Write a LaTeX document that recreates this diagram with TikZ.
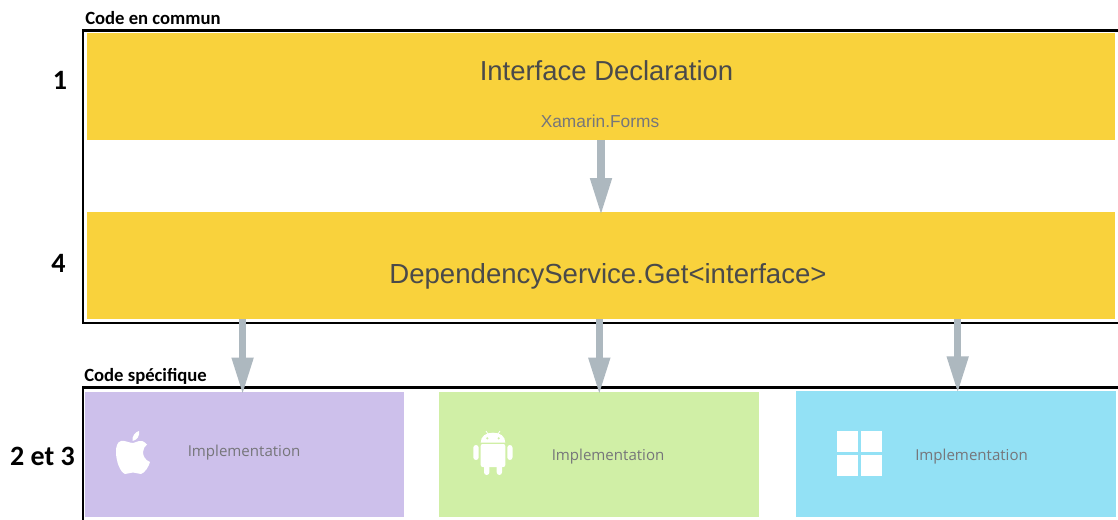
\documentclass[tikz,border=0pt]{standalone}
\usepackage{fontspec}
\setmainfont{Liberation Sans}
\newfontfamily\calfont{Carlito}
\newfontfamily\implfont{Open Sans}
\usetikzlibrary{arrows.meta,calc}
\definecolor{yel}{HTML}{F9D23C}
\definecolor{purp}{HTML}{CDC0EB}
\definecolor{grn}{HTML}{D0EFA6}
\definecolor{cyanb}{HTML}{93E1F5}
\definecolor{arr}{HTML}{ADB8BF}
\definecolor{txt}{HTML}{4A4A4A}
\definecolor{txtl}{HTML}{76767A}
\tikzset{
  box/.style={anchor=north west,inner sep=0pt,outer sep=0pt,draw=none},
  frame/.style={draw=black,line width=2.2pt},
  flow/.style={draw=arr,line width=5.5pt,shorten >=-2.25pt,-{Triangle[length=28pt,width=15pt]}},
  head/.style={font=\calfont\bfseries\fontsize{14}{16}\selectfont,anchor=base west,inner sep=0pt},
  num/.style={font=\calfont\bfseries\fontsize{21}{24}\selectfont,anchor=base,inner sep=0pt},
  impl/.style={font=\implfont\fontsize{11.3}{13}\selectfont,text=txtl,anchor=base west,inner sep=0pt},
  icon/.style={fill=white,draw=none}
}
\begin{document}
\begin{tikzpicture}[x=0.75pt,y=-0.75pt]
\useasboundingbox (0,0) rectangle (1118,520);
\fill[white] (0,0) rectangle (1118,520);
\node[box,fill=yel,minimum width=771pt,minimum height=80pt] (b1) at (87,33.3) {};
\node[box,fill=yel,minimum width=771pt,minimum height=80pt] (b4) at (87,212.5) {};
\node[box,fill=purp,minimum width=239.25pt,minimum height=93.5pt] (i1) at (85,392) {};
\node[box,fill=grn,minimum width=240.2pt,minimum height=93.5pt] (i2) at (439,392) {};
\node[box,fill=cyanb,minimum width=239.5pt,minimum height=95pt] (i3) at (796.4,390.7) {};
\draw[frame] (1118,30.8) -- (83,30.8) -- (83,323) -- (1118,323);
\draw[frame] (83,520) -- (83,387.5) -- (1118,387.5);
\coordinate (ax0) at (601,300);
\coordinate (ax1) at (242.6,300);
\coordinate (ax2) at (599.3,300);
\coordinate (ax3) at (957.7,300);
\draw[flow] (b1.south -| ax0) -- (b4.north -| ax0);
\draw[flow] (b4.south -| ax1) -- (i1.north -| ax1);
\draw[flow] (b4.south -| ax2) -- (i2.north -| ax2);
\draw[flow] (b4.south -| ax3) -- (i3.north -| ax3);
\node[head] (h1) at (85,25) {Code en commun};
\node[head] (h2) at (84,382) {Code spécifique};
\node[num] (n1) at (60,90) {1};
\node[num] (n4) at (58.5,272.5) {4};
\node[num] (n2) at (42.5,465) {2 et 3};
\node[font=\fontsize{20.6}{24}\selectfont,text=txt,anchor=base,inner sep=0pt] (t1) at (606.5,80.5) {Interface Declaration};
\node[font=\fontsize{13}{15}\selectfont,text=txtl,anchor=base,inner sep=0pt] (t2) at (600,128) {Xamarin.Forms};
\node[font=\fontsize{20.7}{24}\selectfont,text=txt,anchor=base,inner sep=0pt] (t4) at (608,284) {DependencyService.Get<interface>};
\node[impl] (l1) at (187.5,456) {Implementation};
\node[impl] (l2) at (551.5,460) {Implementation};
\node[impl] (l3) at (915,460) {Implementation};
% Apple
\fill[icon] (133,443) .. controls (129,443) and (125,440) .. (121,441) .. controls (117,442) and (116,447) .. (116,452) .. controls (116,461) and (120,472) .. (125,474) .. controls (128,474.5) and (130,472) .. (133,472.5) .. controls (136,472) and (138,474.5) .. (141,474) .. controls (145,473) and (149,466) .. (150,462) .. controls (145,460) and (143,456) .. (143,452) .. controls (143,449) and (145,446) .. (147,444.5) .. controls (144,441) and (141,440.5) .. (139,441) .. controls (137,441) and (135,443) .. (133,443) -- cycle;
\fill[icon] (132.5,441) .. controls (132,436) and (135,432) .. (139,431) .. controls (140,436) and (137,440) .. (132.5,441) -- cycle;
% Android
\fill[icon,rounded corners=2pt] (473.3,445) rectangle (478.7,460);
\fill[icon,rounded corners=2pt] (507.3,445) rectangle (512.5,460);
\fill[icon] (480.7,442.7) .. controls (480.7,436) and (486,432.7) .. (493,432.7) .. controls (500,432.7) and (505.3,436) .. (505.3,442.7) -- cycle;
\draw[white,line width=0.6pt] (486,431) -- (488,434) (500,431) -- (498,434);
\fill[grn] (487.3,438.3) circle (1.2);
\fill[grn] (498.7,438.3) circle (1.2);
\fill[icon,rounded corners=1.5pt] (480.7,444) -- (505.3,444) -- (505.3,467) -- (480.7,467) -- cycle;
\fill[icon,rounded corners=2pt] (484,460) rectangle (489.4,475);
\fill[icon,rounded corners=2pt] (496.7,460) rectangle (502,475);
% Windows
\fill[icon] (837,431) rectangle (857.7,451.7);
\fill[icon] (861,431) rectangle (881.7,451.7);
\fill[icon] (837,455) rectangle (857.7,475.7);
\fill[icon] (861,455) rectangle (881.7,475.7);
\end{tikzpicture}
\end{document}
